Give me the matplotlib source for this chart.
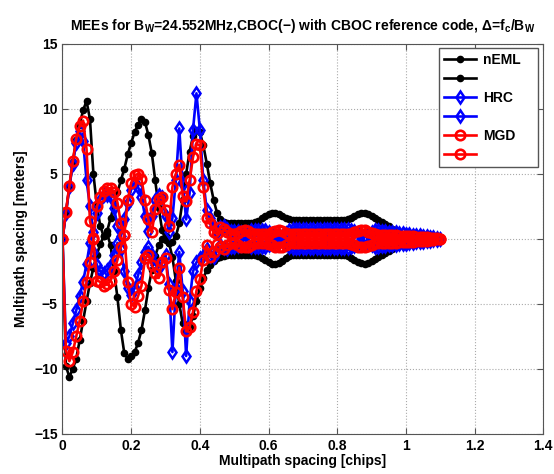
import numpy as np
import matplotlib
matplotlib.use("Agg")
import matplotlib.pyplot as plt

plt.rcParams['font.family'] = ['Liberation Sans', 'DejaVu Sans']
plt.rcParams['font.weight'] = 'bold'
plt.rcParams['mathtext.fontset'] = 'custom'
plt.rcParams['mathtext.rm'] = 'Liberation Sans:bold'
plt.rcParams['mathtext.it'] = 'Liberation Sans:bold'
plt.rcParams['mathtext.bf'] = 'Liberation Sans:bold'

# multipath spacing in chips, 0 .. 1.1 step 0.01
spacing = np.round(np.arange(0, 1.101, 0.01), 2)

neml_up = [0.0, 2.0, 4.0, 5.9, 7.6, 8.8, 9.9, 10.6, 9.2, 5.0,
           2.6, 1.0, 0.2, 0.6, 1.6, 2.6, 3.6, 4.5, 5.4, 6.5,
           7.4, 8.2, 8.8, 9.2, 9.0, 8.0, 6.6, 4.5, 2.4, 0.7,
           -0.1, -0.3, -0.2, 0.2, 1.2, 3.0, 5.0, 6.7, 7.9, 8.4,
           8.2, 7.2, 5.8, 4.3, 3.0, 2.0, 1.5, 1.3, 1.2, 1.2,
           1.2, 1.2, 1.2, 1.2, 1.2, 1.2, 1.3, 1.4, 1.6, 1.8,
           1.95, 2.0, 2.0, 1.9, 1.75, 1.6, 1.5, 1.45, 1.45, 1.45,
           1.45, 1.45, 1.45, 1.45, 1.45, 1.45, 1.45, 1.45, 1.45, 1.45,
           1.45, 1.45, 1.45, 1.5, 1.6, 1.75, 1.9, 2.0, 2.0, 1.9,
           1.75, 1.6, 1.45, 1.3, 1.15, 1.0, 0.8, 0.6, 0.45, 0.3,
           0.2, 0.12, 0.08, 0.05, 0.03, 0.02, 0.01, 0.0, 0.0, 0.0, 0.0]
neml_lo = [0.0, -9.8, -10.6, -10.0, -9.2, -7.8, -6.3, -4.8, -3.4, -2.2,
           -1.2, -0.4, 0.2, 0.4, -0.5, -2.5, -4.5, -7.0, -8.8, -9.2,
           -9.0, -8.7, -8.0, -7.0, -5.5, -3.8, -2.4, -1.3, -0.5, 0.0,
           0.2, -0.3, -1.4, -3.2, -5.0, -6.5, -7.1, -6.8, -5.9, -4.8,
           -3.8, -3.0, -2.4, -2.0, -1.7, -1.5, -1.4, -1.3, -1.2, -1.2,
           -1.2, -1.2, -1.2, -1.2, -1.2, -1.2, -1.25, -1.35, -1.5, -1.65,
           -1.8, -1.9, -1.9, -1.85, -1.7, -1.5, -1.35, -1.25, -1.2, -1.2,
           -1.2, -1.2, -1.2, -1.2, -1.2, -1.2, -1.2, -1.2, -1.2, -1.2,
           -1.2, -1.2, -1.2, -1.3, -1.45, -1.6, -1.75, -1.85, -1.9, -1.85,
           -1.7, -1.55, -1.4, -1.25, -1.1, -0.95, -0.8, -0.6, -0.45, -0.3,
           -0.2, -0.12, -0.08, -0.05, -0.03, -0.02, -0.01, 0.0, 0.0, 0.0, 0.0]

hrc_up = [0.0, 2.0, 4.0, 5.8, 7.4, 8.3, 7.5, 4.5, 2.5, 0.5,
          2.0, 3.0, 3.4, 3.4, 3.2, 2.4, 1.0, 0.2, 1.5, 2.8,
          3.8, 4.3, 4.0, 3.2, 1.8, 0.6, 1.8, 3.0, 3.4, 3.2,
          1.8, 0.5, 1.6, 4.5, 8.5, 4.2, 1.5, 3.5, 8.4, 11.2,
          8.4, 4.5, 2.2, 1.6, 1.0, 0.5, 0.9, 1.0, 0.8, 0.6,
          0.6, 0.6, 0.5, 0.4, 0.5, 0.65, 0.7, 0.7, 0.7, 0.65,
          0.55, 0.4, 0.2, 0.05, 0.2, 0.45, 0.65, 0.75, 0.75, 0.75,
          0.75, 0.75, 0.75, 0.75, 0.75, 0.75, 0.75, 0.75, 0.75, 0.75,
          0.75, 0.75, 0.75, 0.75, 0.7, 0.6, 0.45, 0.3, 0.2, 0.35,
          0.55, 0.65, 0.65, 0.6, 0.6, 0.55, 0.5, 0.5, 0.45, 0.42,
          0.4, 0.36, 0.33, 0.3, 0.27, 0.24, 0.2, 0.16, 0.12, 0.07, 0.0]
hrc_lo = [0.0, -8.0, -7.5, -6.5, -5.5, -4.4, -3.3, -1.9, -0.3, -1.0,
          -2.0, -2.5, -2.6, -2.4, -2.0, -1.2, -0.3, -0.8, -2.5, -3.8,
          -4.3, -3.8, -2.8, -1.8, -1.0, -0.6, -1.2, -2.0, -2.2, -1.8,
          -1.2, -3.5, -8.7, -3.8, -1.0, -4.0, -9.0, -4.8, -2.5, -1.8,
          -1.5, -1.3, -0.8, -1.3, -1.4, -0.9, -0.5, -0.7, -0.8, -0.6,
          -0.6, -0.55, -0.45, -0.35, -0.45, -0.6, -0.65, -0.65, -0.65, -0.6,
          -0.5, -0.35, -0.15, 0.0, -0.15, -0.4, -0.6, -0.7, -0.7, -0.7,
          -0.7, -0.7, -0.7, -0.7, -0.7, -0.7, -0.7, -0.7, -0.7, -0.7,
          -0.7, -0.7, -0.7, -0.7, -0.65, -0.55, -0.4, -0.25, -0.15, -0.3,
          -0.5, -0.6, -0.6, -0.55, -0.55, -0.5, -0.45, -0.45, -0.4, -0.38,
          -0.36, -0.33, -0.3, -0.27, -0.24, -0.21, -0.18, -0.14, -0.1, -0.06, 0.0]

mgd_up = [0.0, 2.1, 4.1, 6.0, 7.7, 8.7, 9.1, 6.9, 1.4, 0.1,
          2.5, 3.2, 3.7, 3.9, 3.9, 3.6, 2.8, 1.2, 0.3, 3.0,
          4.3, 4.9, 5.0, 4.6, 3.0, 1.5, 0.5, 2.3, 3.1, 3.2,
          2.2, 1.0, 4.0, 5.0, 5.7, 3.3, 2.9, 4.5, 6.3, 7.3,
          7.2, 4.0, 1.6, 1.2, 0.5, 0.4, 0.9, 0.8, 0.5, 0.35,
          0.35, 0.45, 0.6, 0.65, 0.6, 0.45, 0.35, 0.35, 0.35, 0.35,
          0.4, 0.5, 0.6, 0.65, 0.6, 0.45, 0.35, 0.35, 0.35, 0.35,
          0.35, 0.35, 0.35, 0.35, 0.35, 0.35, 0.35, 0.35, 0.35, 0.35,
          0.35, 0.35, 0.35, 0.35, 0.4, 0.5, 0.6, 0.65, 0.65, 0.55,
          0.45, 0.35, 0.32, 0.3, 0.3, 0.3, 0.28, 0.28, 0.26, 0.25,
          0.24, 0.22, 0.2, 0.18, 0.16, 0.14, 0.12, 0.1, 0.07, 0.04, 0.0]
mgd_lo = [0.0, -8.6, -9.4, -8.7, -7.5, -6.3, -4.8, -3.3, -1.8, 0.0,
          -3.2, -3.3, -3.6, -3.5, -3.2, -2.5, -1.6, -0.6, 0.3, -3.3,
          -5.0, -5.2, -4.4, -3.6, -1.5, -1.2, -2.0, -2.6, -3.0, -1.8,
          -1.5, -3.9, -5.4, -4.1, -2.2, -4.5, -7.1, -6.8, -5.6, -4.0,
          -3.1, -1.6, -0.5, -1.4, -1.0, -0.4, -0.6, -0.8, -0.5, -0.35,
          -0.35, -0.45, -0.6, -0.65, -0.6, -0.45, -0.35, -0.35, -0.35, -0.35,
          -0.4, -0.5, -0.6, -0.65, -0.6, -0.45, -0.35, -0.35, -0.35, -0.35,
          -0.35, -0.35, -0.35, -0.35, -0.35, -0.35, -0.35, -0.35, -0.35, -0.35,
          -0.35, -0.35, -0.35, -0.35, -0.4, -0.5, -0.6, -0.65, -0.65, -0.55,
          -0.45, -0.35, -0.32, -0.3, -0.3, -0.3, -0.28, -0.28, -0.26, -0.25,
          -0.24, -0.22, -0.2, -0.18, -0.16, -0.14, -0.12, -0.1, -0.07, -0.04, 0.0]

fig = plt.figure(figsize=(5.54, 4.74), dpi=100)
ax = fig.add_axes([0.1128, 0.0844, 0.868, 0.823])

# nEML: black dots, HRC: blue diamonds, MGD: red open circles
lines = []
for y in (neml_up, neml_lo):
    lines += ax.plot(spacing, y, '-', color='k', lw=1.9, marker='o', ms=4.5, mfc='k', mec='k')
for y in (hrc_up, hrc_lo):
    lines += ax.plot(spacing, y, '-', color='b', lw=1.9, marker='d', ms=6.5, mfc='none', mec='b', mew=1.8)
for y in (mgd_up, mgd_lo):
    lines += ax.plot(spacing, y, '-', color='r', lw=1.9, marker='o', ms=6.8, mfc='none', mec='r', mew=1.9)

ax.set_xlim(0, 1.4)
ax.set_ylim(-15, 15)
ax.set_xticks([0, 0.2, 0.4, 0.6, 0.8, 1.0, 1.2, 1.4])
ax.set_xticklabels(['0', '0.2', '0.4', '0.6', '0.8', '1', '1.2', '1.4'])
ax.set_yticks([-15, -10, -5, 0, 5, 10, 15])
ax.tick_params(direction='in', top=True, right=True, length=4, labelsize=10, colors='#555555', labelcolor='k')
for s in ax.spines.values():
    s.set_color('#555555')
ax.grid(True, ls=':', color='#aaaaaa', lw=0.8)

ax.set_xlabel('Multipath spacing [chips]', fontsize=10, fontweight='bold', labelpad=1)
ax.set_ylabel('Multipath spacing [meters]', fontsize=10, fontweight='bold', labelpad=4)
ax.set_title(r'MEEs for B$_W$=24.552MHz,CBOC(−) with CBOC reference code, Δ=f$_c$/B$_W$',
             fontsize=10, fontweight='bold', pad=10)

leg = ax.legend(lines, ['nEML   ', ' ', 'HRC', ' ', 'MGD', ' '], loc='upper right',
                bbox_to_anchor=(0.988, 0.99), borderaxespad=0, fancybox=False,
                fontsize=10, labelspacing=0.35, handlelength=2.3, handletextpad=0.5,
                framealpha=1)
leg.get_frame().set_edgecolor('#555555')
leg.get_frame().set_linewidth(1.0)

fig.savefig('out.png', dpi=100)
